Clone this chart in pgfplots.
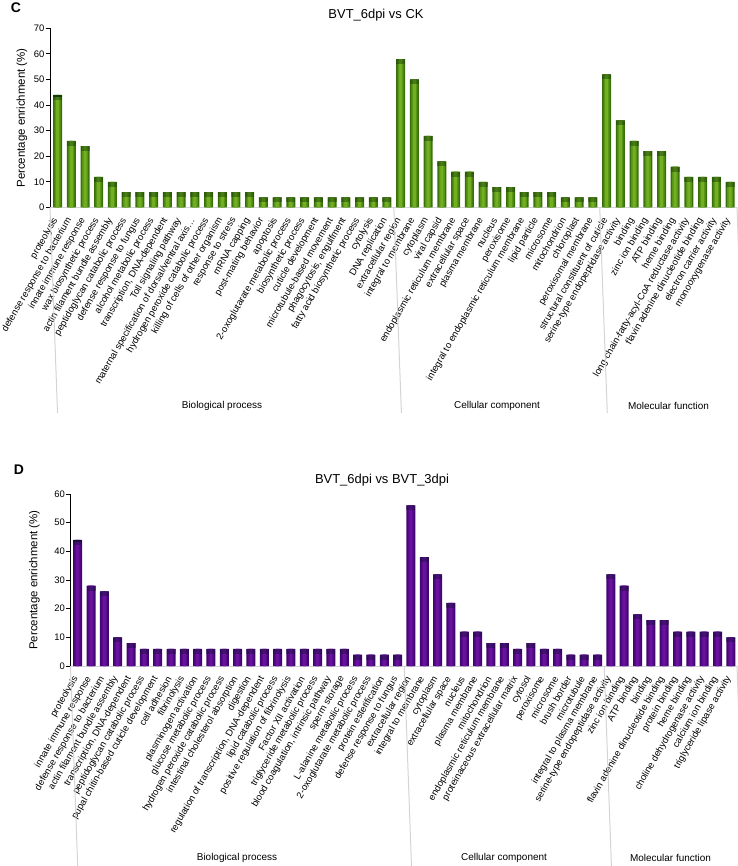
\documentclass[border=0pt]{standalone}
\usepackage{pgfplots}
\pgfplotsset{compat=1.18}
\usepackage{pgfplotstable}
\usepackage{fontspec}
\setmainfont{Liberation Sans}

\definecolor{gedge}{RGB}{58,112,12}
\definecolor{gmid}{RGB}{88,148,22}
\definecolor{glight}{RGB}{114,176,34}
\definecolor{gcap}{RGB}{22,60,6}
\definecolor{pedge}{RGB}{66,6,112}
\definecolor{pmid}{RGB}{86,10,138}
\definecolor{plight}{RGB}{104,18,158}
\definecolor{pcap}{RGB}{26,16,64}
\definecolor{sepgray}{RGB}{212,212,212}

\pgfdeclareplotmark{barcap}{%
  \pgfpathrectangle{\pgfqpoint{-4.5bp}{-2.5bp}}{\pgfqpoint{9bp}{2.5bp}}%
  \pgfusepathqfill
  \pgfsetfillopacity{0.45}%
  \pgfpathrectangle{\pgfqpoint{-4.5bp}{-5bp}}{\pgfqpoint{9bp}{2.5bp}}%
  \pgfusepathqfill}

% Panel C: BVT_6dpi vs CK
\pgfplotstableread{
x y
0 44
1 26
2 24
3 12
4 10
5 6
6 6
7 6
8 6
9 6
10 6
11 6
12 6
13 6
14 6
15 4
16 4
17 4
18 4
19 4
20 4
21 4
22 4
23 4
24 4
25 58
26 50
27 28
28 18
29 14
30 14
31 10
32 8
33 8
34 6
35 6
36 6
37 4
38 4
39 4
40 52
41 34
42 26
43 22
44 22
45 16
46 12
47 12
48 12
49 10
}\datac

% Panel D: BVT_6dpi vs BVT_3dpi
\pgfplotstableread{
x y
0 44
1 28
2 26
3 10
4 8
5 6
6 6
7 6
8 6
9 6
10 6
11 6
12 6
13 6
14 6
15 6
16 6
17 6
18 6
19 6
20 6
21 4
22 4
23 4
24 4
25 56
26 38
27 32
28 22
29 12
30 12
31 8
32 8
33 6
34 8
35 6
36 6
37 4
38 4
39 4
40 32
41 28
42 18
43 16
44 16
45 12
46 12
47 12
48 12
49 10
}\datad

\pgfplotsset{
  goplot/.style={
    scale only axis,
    clip=false,
    axis x line*=bottom,
    axis y line*=left,
    x axis line style={sepgray, line width=1bp, -},
    y axis line style={black, line width=0.8bp, -},
    xtick={0,...,49},
    xtick style={draw=none},
    ytick style={black, line width=0.8bp},
    tick align=outside,
    major tick length=4bp,
    /pgf/number format/assume math mode=true,
    yticklabel style={font=\fontsize{9.5}{10}\selectfont, inner sep=1.5bp},
    xticklabel style={font=\fontsize{9.5}{10}\selectfont, rotate=60, anchor=east, inner sep=1bp, xshift=-6bp, yshift=-2bp},
    ylabel={Percentage enrichment (\%)},
    every axis y label/.style={at={(axis description cs:0,0.5)}, rotate=90, anchor=center, font=\fontsize{11.5}{12}\selectfont},
  },
  edgebar/.style={ybar, bar width=9bp, bar shift=0pt, draw=none, fill=#1},
  midbar/.style={ybar, bar width=6bp, bar shift=0pt, draw=none, fill=#1},
  litbar/.style={ybar, bar width=3bp, bar shift=0pt, draw=none, fill=#1},
}

\begin{document}
\begin{tikzpicture}
\useasboundingbox (0,0) rectangle (738bp,866bp);

% ---------------- Panel C ----------------
\node[font=\bfseries\fontsize{14}{14}\selectfont] at (16bp,858bp) {C};
\node[font=\fontsize{13}{13}\selectfont] at (376bp,851bp) {BVT\_6dpi vs CK};

\begin{axis}[goplot,
  at={(50bp,658.5bp)}, anchor=south west,
  width=687bp, height=179.2bp,
  xmin=-0.55, xmax=49.5, ymin=0, ymax=70,
  ytick={0,10,...,70},
  ylabel style={yshift=28bp},
  xticklabels={proteolysis, defense response to bacterium, innate immune response, wax biosynthetic process, actin filament bundle assembly, peptidoglycan catabolic process, defense response to fungus, alcohol metabolic process, {transcription, DNA-dependent}, Toll signaling pathway, maternal specification of dorsal/ventral axis…, hydrogen peroxide catabolic process, killing of cells of other organism, response to stress, mRNA capping, post-mating behavior, apoptosis, 2-oxoglutarate metabolic process, biosynthetic process, cuticle development, microtubule-based movement, {phagocytosis, engulfment}, fatty acid biosynthetic process, cytolysis, DNA replication, extracellular region, integral to membrane, cytoplasm, viral capsid, endoplasmic reticulum membrane, extracellular space, plasma membrane, nucleus, peroxisome, integral to endoplasmic reticulum membrane, lipid particle, microsome, mitochondrion, chloroplast, peroxisomal membrane, structural constituent of cuticle, serine-type endopeptidase activity, binding, zinc ion binding, ATP binding, heme binding, long-chain-fatty-acyl-CoA reductase activity, flavin adenine dinucleotide binding, electron carrier activity, monooxygenase activity},
]
\addplot[edgebar=gedge] table[x=x,y=y] {\datac};
\addplot[midbar=gmid] table[x=x,y=y] {\datac};
\addplot[litbar=glight, mark=barcap, mark options={fill=gcap, draw=none}] table[x=x,y=y] {\datac};
\draw[sepgray, line width=1bp] (axis cs:-0.55,0) -- ++(0,-205.5bp);
\draw[sepgray, line width=1bp] (axis cs:24.5,0) -- ++(0,-205.5bp);
\draw[sepgray, line width=1bp] (axis cs:39.5,0) -- ++(0,-205.5bp);
\draw[sepgray, line width=1bp] (axis cs:49.5,0) -- ++(0,-205.5bp);
\end{axis}
\node[font=\fontsize{10}{10}\selectfont] at (222bp,460bp) {Biological process};
\node[font=\fontsize{10}{10}\selectfont] at (497bp,460bp) {Cellular component};
\node[font=\fontsize{10}{10}\selectfont] at (668.5bp,460bp) {Molecular function};

% ---------------- Panel D ----------------
\node[font=\bfseries\fontsize{14}{14}\selectfont] at (19bp,396bp) {D};
\node[font=\fontsize{13}{13}\selectfont] at (382bp,386bp) {BVT\_6dpi vs BVT\_3dpi};

\begin{axis}[goplot,
  at={(70.5bp,200bp)}, anchor=south west,
  width=666.5bp, height=172bp,
  xmin=-0.54, xmax=49.46, ymin=0, ymax=60,
  ytick={0,10,...,60},
  ylabel style={yshift=36bp},
  xticklabels={proteolysis, innate immune response, defense response to bacterium, actin filament bundle assembly, {transcription, DNA-dependent}, peptidoglycan catabolic process, pupal chitin-based cuticle development, cell adhesion, fibrinolysis, plasminogen activation, glucose metabolic process, hydrogen peroxide catabolic process, intestinal cholesterol absorption, digestion, {regulation of transcription, DNA-dependent}, lipid catabolic process, positive regulation of fibrinolysis, Factor XII activation, triglyceride metabolic process, {blood coagulation, intrinsic pathway}, sperm storage, L-alanine metabolic process, 2-oxoglutarate metabolic process, protein esterification, defense response to fungus, extracellular region, integral to membrane, cytoplasm, extracellular space, nucleus, plasma membrane, mitochondrion, endoplasmic reticulum membrane, proteinaceous extracellular matrix, cytosol, peroxisome, microsome, brush border, microtubule, integral to plasma membrane, serine-type endopeptidase activity, zinc ion binding, ATP binding, binding, flavin adenine dinucleotide binding, protein binding, heme binding, choline dehydrogenase activity, calcium ion binding, triglyceride lipase activity},
]
\addplot[edgebar=pedge] table[x=x,y=y] {\datad};
\addplot[midbar=pmid] table[x=x,y=y] {\datad};
\addplot[litbar=plight, mark=barcap, mark options={fill=pcap, draw=none}] table[x=x,y=y] {\datad};
\draw[sepgray, line width=1bp] (axis cs:-0.54,0) -- ++(0,-200bp);
\draw[sepgray, line width=1bp] (axis cs:24.5,0) -- ++(0,-200bp);
\draw[sepgray, line width=1bp] (axis cs:39.5,0) -- ++(0,-200bp);
\draw[sepgray, line width=1bp] (axis cs:49.46,0) -- ++(0,-200bp);
\end{axis}
\node[font=\fontsize{10}{10}\selectfont] at (237bp,8bp) {Biological process};
\node[font=\fontsize{10}{10}\selectfont] at (504bp,8bp) {Cellular component};
\node[font=\fontsize{10}{10}\selectfont] at (670.5bp,8bp) {Molecular function};
\end{tikzpicture}
\end{document}
